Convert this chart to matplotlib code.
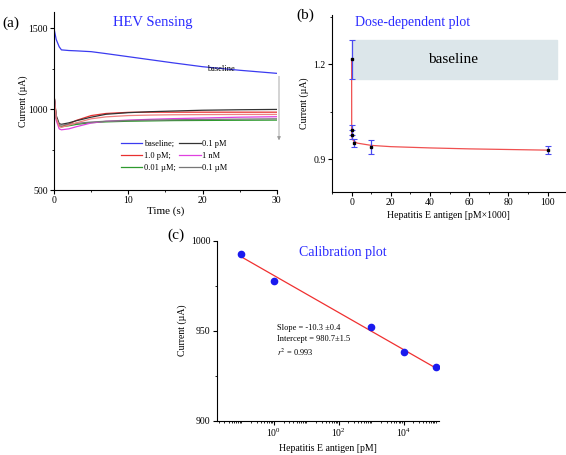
import matplotlib
matplotlib.use('Agg')
import matplotlib.pyplot as plt
import matplotlib.ticker as mticker
import numpy as np

plt.rcParams['font.family'] = ['Liberation Serif', 'DejaVu Serif']
plt.rcParams['font.size'] = 7
plt.rcParams['mathtext.fontset'] = 'stix'

# ---- panel (a): current vs time ----
t = [0, 0.3, 0.7, 1, 2, 3, 5, 7, 10, 13, 16, 20, 25, 30]
baseline = [1498, 1430, 1385, 1366, 1362, 1360, 1355, 1343, 1324, 1305, 1286, 1262, 1240, 1221]
c_01pM = [1090, 960, 910, 906, 915, 928, 950, 968, 978, 984, 988, 993, 996, 998]
c_1pM = [1090, 950, 895, 891, 908, 930, 960, 973, 980, 981, 981, 981, 981, 981]
c_extra = [1090, 945, 892, 888, 900, 915, 940, 952, 960, 963, 965, 966, 967, 967]
c_1nM = [1090, 930, 878, 872, 878, 891, 914, 925, 932, 937, 941, 945, 950, 953]
c_10nM = [1090, 940, 895, 891, 897, 905, 916, 921, 925, 927, 929, 930, 931, 932]
c_100nM = [1090, 945, 902, 901, 906, 912, 920, 925, 929, 932, 934, 936, 938, 940]

# ---- panel (b): dose dependence ----
dose = [0, 0.0001, 0.001, 1, 10, 100]
dose_i = [1.215, 0.992, 0.978, 0.952, 0.940, 0.929]
dose_err = [0.062, 0.015, 0.013, 0.012, 0.022, 0.013]
fit_x = [0, 0.05, 0.3, 1, 3, 10, 20, 40, 60, 80, 100]
fit_y = [1.215, 0.985, 0.966, 0.958, 0.951, 0.944, 0.940, 0.936, 0.933, 0.931, 0.929]

# ---- panel (c): calibration ----
conc = [0.1, 1, 1000, 10000, 100000]
cal_i = [992.8, 977.8, 951.9, 938.0, 930.0]
slope = -10.3
intercept = 980.7

fig = plt.figure(figsize=(5.66, 4.55), dpi=100)

def style(ax):
    ax.spines['top'].set_visible(False)
    ax.spines['right'].set_visible(False)
    ax.tick_params(which='both', direction='out', labelsize=7, pad=1.5)
    ax.tick_params(which='major', length=3)
    ax.tick_params(which='minor', length=1.5)

# (a)
ax1 = fig.add_axes([0.0954, 0.5824, 0.3936, 0.3912])
ax1.plot(t, baseline, color='#3b3bf0', lw=0.9, label='baseline;')
ax1.plot(t, c_1pM, color='#e83030', lw=0.9, label='1.0 pM;')
ax1.plot(t, c_10nM, color='#2e9a2e', lw=0.9, label='0.01 \u00b5M;')
ax1.plot(t, c_01pM, color='#333333', lw=0.9, label='0.1 pM')
ax1.plot(t, c_1nM, color='#e040e0', lw=0.9, label='1 nM')
ax1.plot(t, c_100nM, color='#777777', lw=0.9, label='0.1 \u00b5M')
ax1.plot(t, c_extra, color='#f08080', lw=0.9)
ax1.set_xlim(0, 30)
ax1.set_ylim(500, 1600)
ax1.set_xticks([0, 10, 20, 30])
ax1.set_yticks([500, 1000, 1500])
ax1.xaxis.set_minor_locator(mticker.MultipleLocator(5))
ax1.yaxis.set_minor_locator(mticker.MultipleLocator(250))
style(ax1)
ax1.set_xlabel('Time (s)', fontsize=8, labelpad=1)
ax1.set_ylabel('Current (\u00b5A)', fontsize=7, labelpad=0.5)
ax1.text(0.443, 0.94, 'HEV Sensing', transform=ax1.transAxes, color='#2b2bff',
         fontsize=10.5, ha='center', va='center')
ax1.text(22.5, 1250, 'baseline', fontsize=6, ha='center', va='center')
ax1.annotate('', xy=(30.3, 790), xytext=(30.3, 1220), annotation_clip=False,
             arrowprops=dict(arrowstyle='-|>', color='#999999', lw=0.6,
                             mutation_scale=5))
ax1.legend(ncol=2, loc='upper left', bbox_to_anchor=(0.30, 0.28), frameon=False,
           fontsize=6, handlelength=2.6, handletextpad=0.2, columnspacing=0.35,
           labelspacing=0.45, borderaxespad=0, borderpad=0)
fig.text(0.004, 0.949, '(a)', fontsize=11, va='center')

# (b)
ax2 = fig.add_axes([0.5866, 0.578, 0.412, 0.389])
ax2.axhspan(1.153, 1.276, xmin=(0 + 10) / 119, xmax=(105 + 10) / 119,
            color='#dce6ea', zorder=0)
ax2.plot(fit_x, fit_y, color='#f05050', lw=0.9, zorder=2)
ax2.errorbar(dose, dose_i, yerr=dose_err, fmt='s', color='black', ms=1.5,
             ecolor='#4a4af0', elinewidth=0.9, capsize=2, capthick=0.8, zorder=3)
ax2.set_xlim(-10, 109)
ax2.set_ylim(0.797, 1.355)
ax2.set_xticks([0, 20, 40, 60, 80, 100])
ax2.set_yticks([0.9, 1.2])
ax2.xaxis.set_minor_locator(mticker.MultipleLocator(10))
ax2.yaxis.set_minor_locator(mticker.MultipleLocator(0.15))
style(ax2)
ax2.set_xlabel('Hepatitis E antigen [pM\u00d71000]', fontsize=7, labelpad=3)
ax2.set_ylabel('Current (\u00b5A)', fontsize=7, labelpad=3)
ax2.text(52, 1.214, 'baseline', fontsize=11, ha='center', va='center')
ax2.text(0.099, 0.955, 'Dose-dependent plot', transform=ax2.transAxes, color='#2b2bff',
         fontsize=10, ha='left', va='center')
fig.text(0.524, 0.967, '(b)', fontsize=11, va='center')

# (c)
ax3 = fig.add_axes([0.383, 0.0754, 0.393, 0.3956])
fx = np.array([conc[0], conc[-1]])
ax3.plot(fx, intercept + slope * np.log10(fx), color='#f03030', lw=0.9)
ax3.plot(conc, cal_i, 'o', color='#1a1aee', ms=4.5)
ax3.set_xscale('log')
ax3.set_xlim(10 ** -1.76, 10 ** 5.1)
ax3.set_ylim(900, 1000)
ax3.set_xticks([1, 100, 10000])
ax3.xaxis.set_minor_locator(mticker.LogLocator(base=10, subs=np.arange(1, 10), numticks=20))
ax3.xaxis.set_minor_formatter(mticker.NullFormatter())
ax3.set_yticks([900, 950, 1000])
ax3.yaxis.set_minor_locator(mticker.MultipleLocator(25))
style(ax3)
ax3.set_xlabel('Hepatitis E antigen [pM]', fontsize=7, labelpad=3)
ax3.set_ylabel('Current (\u00b5A)', fontsize=7, labelpad=3)
ax3.text(0.566, 0.935, 'Calibration plot', transform=ax3.transAxes, color='#2b2bff',
         fontsize=10, ha='center', va='center')
ax3.text(0.27, 0.443, 'Slope = -10.3 \u00b10.4\nIntercept = 980.7\u00b11.5\n$r^2$ = 0.993',
         transform=ax3.transAxes, fontsize=6, ha='left', va='center', linespacing=1.4)
fig.text(0.295, 0.483, '(c)', fontsize=11, va='center')

plt.savefig('out.png', dpi=100)
